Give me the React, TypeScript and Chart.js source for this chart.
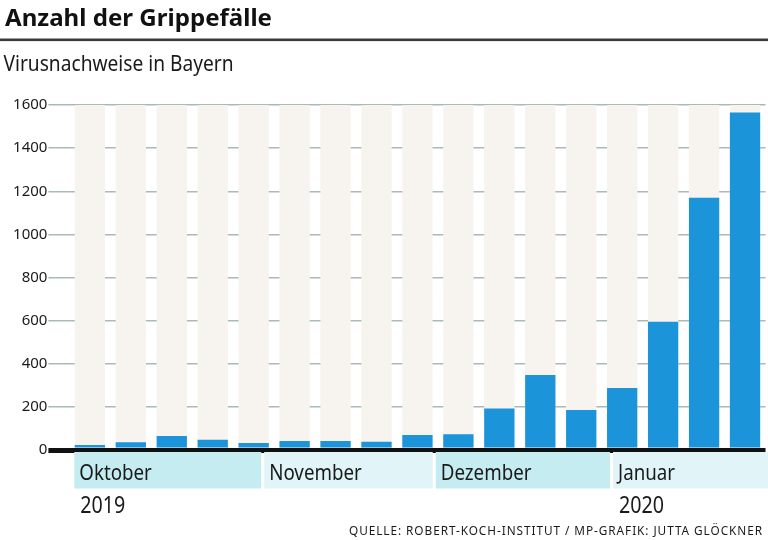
import React, { useEffect, useRef } from "react";
import { Chart, registerables } from "chart.js";

Chart.register(...registerables);

const weeks = ["KW40", "KW41", "KW42", "KW43", "KW44", "KW45", "KW46", "KW47", "KW48", "KW49", "KW50", "KW51", "KW52", "KW1", "KW2", "KW3", "KW4"];
const cases = [23, 36, 65, 48, 32, 42, 42, 38, 70, 73, 193, 348, 186, 288, 595, 1170, 1565];
const yMax = 1600;
const yStep = 200;
const months = ["Oktober", "November", "Dezember", "Januar"];
// month boundaries expressed in week-index units
const monthStarts = [-0.38, 4.22, 8.41, 12.74, 16.8];
const years = ["2019", "", "", "2020"];
const title = "Anzahl der Grippefälle";
const subtitle = "Virusnachweise in Bayern";
const source = "QUELLE: ROBERT-KOCH-INSTITUT / MP-GRAFIK: JUTTA GLÖCKNER";

const FONT = "'Noto Sans', 'Open Sans', sans-serif";
const BLUE = "rgb(27,148,218)";
const BEIGE = "rgb(247,243,238)";
const GRID = "rgb(170,186,184)";
const BAND_DARK = "rgb(196,236,241)";
const BAND_LIGHT = "rgb(225,245,248)";
const TEXT = "#1a1a1a";

function fitText(ctx: CanvasRenderingContext2D, text: string, x: number, y: number, font: string, width: number | null, scale: number, color: string, align: "left" | "right" = "left", spacing = "0px") {
  ctx.save();
  ctx.font = font;
  (ctx as any).letterSpacing = spacing;
  const w = ctx.measureText(text).width;
  const s = width ? width / w : scale;
  ctx.translate(x, y);
  ctx.scale(s, 1);
  ctx.fillStyle = color;
  ctx.textBaseline = "alphabetic";
  ctx.textAlign = "left";
  ctx.fillText(text, align === "right" ? -w : 0, 0);
  ctx.restore();
}

const decoPlugin = {
  id: "deco",
  afterDraw(chart: any) {
    const ctx: CanvasRenderingContext2D = chart.ctx;
    const xs = chart.scales.x;
    const W = chart.width;
    // title
    fitText(ctx, title, 5, 25.5, `bold 23px ${FONT}`, 267, 1, "#111");
    ctx.save();
    ctx.fillStyle = "#3a3a3a";
    ctx.fillRect(0, 38.5, W, 2.6);
    ctx.restore();
    fitText(ctx, subtitle, 3.5, 71, `21px ${FONT}`, 230, 1, TEXT);

    // month bands
    ctx.save();
    ctx.font = `22px ${FONT}`;
    const monthScale = 92.6 / ctx.measureText("November").width;
    ctx.restore();
    ctx.save();
    ctx.font = `23px ${FONT}`;
    const yearScale = 45 / ctx.measureText("2019").width;
    ctx.restore();
    const bandTop = 452;
    const bandBottom = 488.5;
    for (let i = 0; i < months.length; i++) {
      const x0 = xs.getPixelForValue(monthStarts[i]) + (i === 0 ? 0 : 1.5);
      const x1 = Math.min(xs.getPixelForValue(monthStarts[i + 1]) - 1.5, W);
      ctx.save();
      ctx.fillStyle = i % 2 === 0 ? BAND_DARK : BAND_LIGHT;
      ctx.fillRect(x0, bandTop, x1 - x0, bandBottom - bandTop);
      ctx.restore();
      fitText(ctx, months[i], x0 + 5, 479.5, `22px ${FONT}`, null, monthScale, TEXT);
      if (years[i]) fitText(ctx, years[i], x0 + 6, 513.3, `23px ${FONT}`, null, yearScale, TEXT);
    }
    fitText(ctx, source, 763, 535, `12.5px ${FONT}`, 414, 1, TEXT, "right", "1px");
  },
};

export default function App() {
  const ref = useRef<HTMLCanvasElement>(null);
  useEffect(() => {
    if (!ref.current) return;
    const chart = new Chart(ref.current, {
      type: "bar",
      data: {
        labels: weeks,
        datasets: [
          {
            label: "Virusnachweise",
            data: cases,
            backgroundColor: BLUE,
            borderWidth: 0,
            categoryPercentage: 1,
            barPercentage: 0.74,
            grouped: false,
            order: 1,
          },
          {
            label: "bg",
            data: weeks.map(() => yMax),
            backgroundColor: BEIGE,
            borderWidth: 0,
            categoryPercentage: 1,
            barPercentage: 0.74,
            grouped: false,
            order: 2,
          },
        ],
      },
      options: {
        responsive: false,
        animation: false,
        devicePixelRatio: 1,
        layout: { padding: { top: 105, right: 2.5, bottom: 90, left: 0 } },
        plugins: { legend: { display: false }, tooltip: { enabled: false }, title: { display: false } },
        scales: {
          x: { display: false, offset: true },
          y: {
            min: 0,
            max: yMax,
            z: 1,
            afterFit: (s: any) => {
              s.width = 69.4;
            },
            border: { display: false },
            grid: {
              drawTicks: true,
              tickLength: 21,
              color: (c: any) => (c.tick && c.tick.value === 0 ? "#111" : GRID),
              lineWidth: (c: any) => (c.tick && c.tick.value === 0 ? 5 : 1.5),
            },
            ticks: {
              stepSize: yStep,
              padding: 1,
              color: TEXT,
              font: { family: FONT, size: 15 },
              callback: (v: any) => String(v),
            },
          },
        },
      },
      plugins: [decoPlugin],
    });
    return () => chart.destroy();
  }, []);
  return (
    <div style={{ position: "absolute", left: 0, top: 0, width: 768, height: 540, background: "#fff" }}>
      <canvas ref={ref} width={768} height={540} style={{ display: "block" }} />
    </div>
  );
}
